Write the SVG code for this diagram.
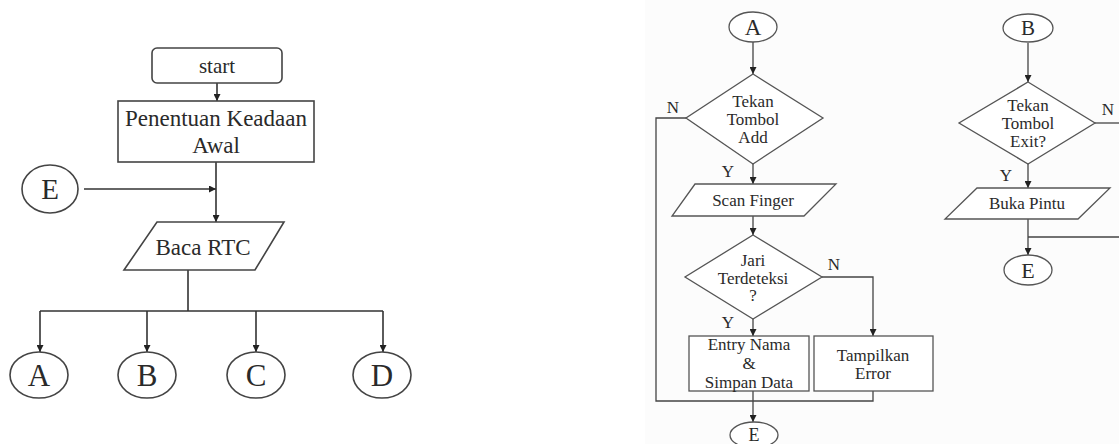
<svg xmlns="http://www.w3.org/2000/svg" width="1119" height="444" viewBox="0 0 1119 444">
<style>
.s{fill:#fff;stroke:#444;stroke-width:1.6}
.sr{fill:#fff;stroke:#555;stroke-width:1.3}
.c{fill:none;stroke:#333;stroke-width:1.6}
.cr{fill:none;stroke:#444;stroke-width:1.3}
.tx text{fill:#2a2a2a;text-anchor:middle}
.t22{font-size:23px}
.t16{font-size:17px}
</style>
<defs>
<marker id="ah" viewBox="0 0 10 10" refX="10" refY="5" markerWidth="7" markerHeight="7" markerUnits="userSpaceOnUse" orient="auto">
<path d="M0,0 L10,5 L0,10 z" fill="#222"/>
</marker>
</defs>
<rect x="645" y="0" width="474" height="444" fill="#fcfcfc"/>
<g id="connectors">
<path class="c" d="M217,83 V101" marker-end="url(#ah)"/>
<path class="c" d="M84,189 H216" marker-end="url(#ah)"/>
<path class="c" d="M216,162 V222" marker-end="url(#ah)"/>
<path class="c" d="M188,270 V311 M40,311 H383"/>
<path class="c" d="M40,311 V352" marker-end="url(#ah)"/>
<path class="c" d="M147,311 V352" marker-end="url(#ah)"/>
<path class="c" d="M256,311 V352" marker-end="url(#ah)"/>
<path class="c" d="M383,311 V352" marker-end="url(#ah)"/>
<path class="cr" d="M753,42 V74" marker-end="url(#ah)"/>
<path class="cr" d="M753,164 V184" marker-end="url(#ah)"/>
<path class="cr" d="M753,216 V235" marker-end="url(#ah)"/>
<path class="cr" d="M753,319 V336" marker-end="url(#ah)"/>
<path class="cr" d="M686,118 H656 V401 H873 V391"/>
<path class="cr" d="M822,277 H873 V336" marker-end="url(#ah)"/>
<path class="cr" d="M753,391 V422" marker-end="url(#ah)"/>
<path class="cr" d="M1028,43 V82" marker-end="url(#ah)"/>
<path class="cr" d="M1095,123 H1119"/>
<path class="cr" d="M1028,164 V188" marker-end="url(#ah)"/>
<path class="cr" d="M1028,219 V255" marker-end="url(#ah)"/>
<path class="cr" d="M1028,237 H1119"/>
</g>
<g class="tx" font-family="'Liberation Serif', 'DejaVu Serif', serif">
<g id="start"><rect class="s" x="152" y="48" width="130" height="35" rx="5"/><text x="217" y="73" font-size="21">start</text></g>
<g id="init"><rect class="s" x="118" y="101" width="196" height="61"/><text class="t22" x="216" y="126">Penentuan Keadaan</text><text class="t22" x="216" y="153">Awal</text></g>
<g id="connE1"><ellipse class="s" cx="50" cy="189" rx="28" ry="24"/><text x="50" y="199" font-size="29">E</text></g>
<g id="bacaRTC"><polygon class="s" points="157,222 284,222 255,270 124,270"/><text class="t22" x="203" y="255">Baca RTC</text></g>
<g id="connA1"><ellipse class="s" cx="39" cy="375" rx="29" ry="23"/><text x="39" y="386" font-size="31">A</text></g>
<g id="connB1"><ellipse class="s" cx="147" cy="375" rx="29" ry="23"/><text x="147" y="386" font-size="31">B</text></g>
<g id="connC1"><ellipse class="s" cx="256" cy="375" rx="29" ry="23"/><text x="256" y="386" font-size="31">C</text></g>
<g id="connD1"><ellipse class="s" cx="382" cy="375" rx="29" ry="23"/><text x="382" y="386" font-size="31">D</text></g>

<g id="connA2"><ellipse class="sr" cx="753" cy="27" rx="24" ry="15"/><text x="753" y="35" font-size="23">A</text></g>
<g id="decAdd"><polygon class="sr" points="753,74 823,118 753,164 686,118"/><text class="t16" x="753" y="107">Tekan</text><text class="t16" x="753" y="125">Tombol</text><text class="t16" x="753" y="143">Add</text></g>
<text class="t16" x="673" y="113">N</text>
<text class="t16" x="728" y="177">Y</text>
<g id="scan"><polygon class="sr" points="695,184 836,184 804,216 672,216"/><text class="t16" x="753" y="206">Scan Finger</text></g>
<g id="decJari"><polygon class="sr" points="753,235 822,277 753,319 685,277"/><text class="t16" x="753" y="266">Jari</text><text class="t16" x="753" y="284">Terdeteksi</text><text class="t16" x="753" y="301">?</text></g>
<text class="t16" x="834" y="270">N</text>
<text class="t16" x="728" y="328">Y</text>
<g id="entry"><rect class="sr" x="689" y="336" width="120" height="55"/><text class="t16" x="749" y="350">Entry Nama</text><text class="t16" x="749" y="369">&amp;</text><text class="t16" x="749" y="388">Simpan Data</text></g>
<g id="error"><rect class="sr" x="814" y="336" width="119" height="55"/><text class="t16" x="873" y="361">Tampilkan</text><text class="t16" x="873" y="379">Error</text></g>
<g id="connE2"><ellipse class="sr" cx="754" cy="435" rx="24" ry="13"/><text x="754" y="441" font-size="18">E</text></g>

<g id="connB2"><ellipse class="sr" cx="1028" cy="28" rx="25" ry="14"/><text x="1028" y="35" font-size="21">B</text></g>
<g id="decExit"><polygon class="sr" points="1028,82 1095,123 1028,164 959,123"/><text class="t16" x="1028" y="111">Tekan</text><text class="t16" x="1028" y="129">Tombol</text><text class="t16" x="1028" y="147">Exit?</text></g>
<text class="t16" x="1108" y="115">N</text>
<text class="t16" x="1006" y="181">Y</text>
<g id="buka"><polygon class="sr" points="977,188 1110,188 1078,219 945,219"/><text class="t16" x="1027" y="209">Buka Pintu</text></g>
<g id="connE3"><ellipse class="sr" cx="1028" cy="270" rx="24" ry="15"/><text x="1028" y="278" font-size="22">E</text></g>
</g>
</svg>
